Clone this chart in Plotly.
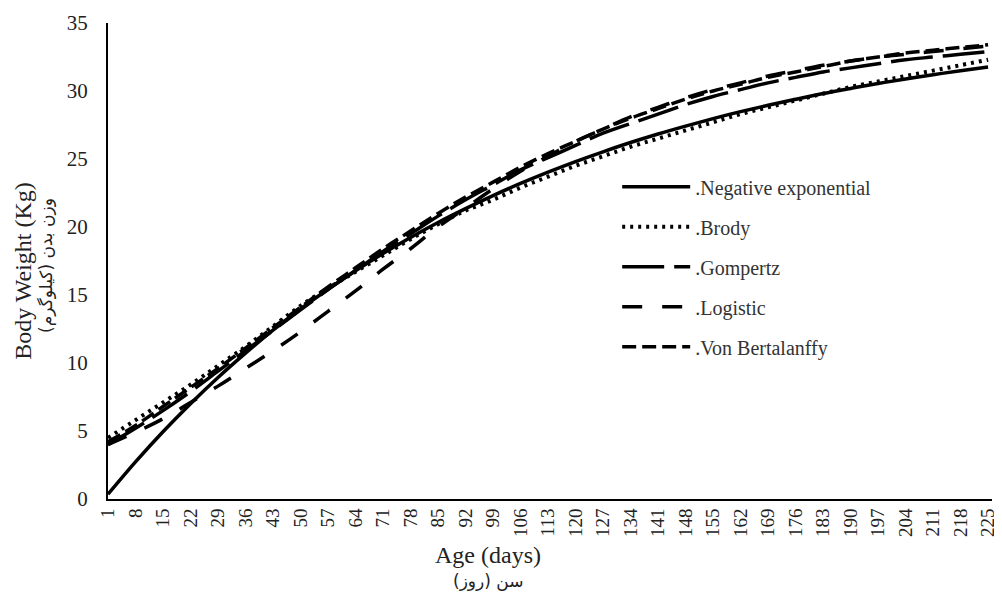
import plotly.graph_objects as go

days = list(range(1, 226, 7))

neg_exp = [0.35, 2.73, 4.95, 7.01, 8.94, 10.73, 12.41, 13.97, 15.42, 16.78, 18.05,
           19.23, 20.33, 21.35, 22.31, 23.20, 24.03, 24.81, 25.53, 26.21, 26.84,
           27.42, 27.97, 28.48, 28.95, 29.39, 29.81, 30.19, 30.55, 30.89, 31.20,
           31.49, 31.76]
brody = [4.5, 5.8, 7.1, 8.4, 9.8, 11.2, 12.7, 14.2, 15.5, 16.7, 17.9,
         19.1, 20.2, 21.2, 22.0, 22.9, 23.7, 24.5, 25.2, 25.9, 26.5,
         27.1, 27.7, 28.3, 28.8, 29.3, 29.8, 30.3, 30.7, 31.1, 31.5,
         31.9, 32.3]
gompertz = [4.0, 5.2, 6.5, 7.9, 9.4, 10.9, 12.4, 13.9, 15.4, 16.8, 18.2,
            19.5, 20.8, 22.0, 23.1, 24.2, 25.1, 26.0, 26.9, 27.6, 28.3,
            29.0, 29.6, 30.1, 30.6, 31.0, 31.4, 31.7, 32.0, 32.3, 32.5,
            32.7, 32.9]
logistic = [4.0, 4.9, 5.9, 7.1, 8.3, 9.6, 10.9, 12.3, 13.8, 15.3, 16.9,
            18.4, 20.0, 21.4, 22.8, 24.1, 25.2, 26.3, 27.2, 28.1, 28.8,
            29.5, 30.1, 30.6, 31.1, 31.5, 31.9, 32.2, 32.5, 32.7, 32.9,
            33.1, 33.3]
von_bert = [4.2, 5.4, 6.8, 8.2, 9.6, 11.1, 12.6, 14.1, 15.6, 17.0, 18.4,
            19.7, 21.0, 22.2, 23.3, 24.4, 25.4, 26.3, 27.2, 28.0, 28.7,
            29.4, 30.0, 30.5, 31.0, 31.4, 31.8, 32.2, 32.5, 32.8, 33.0,
            33.2, 33.4]

series = [
    (".Negative exponential", neg_exp, "solid", 3.5),
    (".Brody", brody, "3px,5px", 4),
    (".Gompertz", gompertz, "42px,10px", 3.5),
    (".Logistic", logistic, "20px,20px", 3.5),
    (".Von Bertalanffy", von_bert, "14px,6px", 3.5),
]

y_ticks = [0, 5, 10, 15, 20, 25, 30, 35]

FONT = "Liberation Serif, Times New Roman, serif"

fig = go.Figure()
for i, (name, vals, dash, w) in enumerate(series):
    fig.add_trace(go.Scatter(
        x=days, y=vals, name=name, mode="lines",
        line=dict(color="black", width=w, dash=dash, shape="spline"),
        legendgroup=f"g{i}",
    ))

fig.update_layout(
    width=994, height=587,
    margin=dict(l=100, r=10, t=15, b=96, autoexpand=False),
    paper_bgcolor="white", plot_bgcolor="white",
    font=dict(family=FONT, color="#222", size=18),
    showlegend=True,
    legend=dict(
        x=0.576, y=0.697, xanchor="left", yanchor="top",
        bgcolor="rgba(0,0,0,0)", itemwidth=68,
        font=dict(family=FONT, size=20, color="#333"),
        tracegroupgap=11,
    ),
    xaxis=dict(
        range=[1, 226], tickmode="array", tickvals=days,
        ticktext=[str(d) for d in days], tickangle=-90,
        showgrid=False, zeroline=False, showline=True, automargin=False,
        linecolor="black", linewidth=2, ticks="",
        tickfont=dict(family=FONT, size=19, color="#222"),
    ),
    yaxis=dict(
        range=[0, 35], tickmode="array", tickvals=y_ticks,
        showgrid=False, zeroline=False, showline=True, automargin=False,
        linecolor="black", linewidth=2, ticks="",
        ticklabelstandoff=14,
        tickfont=dict(family=FONT, size=21, color="#222"),
    ),
    annotations=[
        dict(text="Body Weight (Kg)", xref="paper", yref="paper",
             x=-0.097, y=0.48, textangle=-90, showarrow=False,
             xanchor="center", yanchor="middle",
             font=dict(family=FONT, size=24, color="#222")),
        dict(text="وزن بدن (کیلوگرم)", xref="paper", yref="paper",
             x=-0.070, y=0.49, textangle=-90, showarrow=False,
             xanchor="center", yanchor="middle",
             font=dict(family="DejaVu Sans", size=17, color="#222")),
        dict(text="Age (days)", xref="paper", yref="paper",
             x=0.43, y=-0.118, showarrow=False,
             xanchor="center", yanchor="middle",
             font=dict(family=FONT, size=24, color="#222")),
        dict(text="سن (روز)", xref="paper", yref="paper",
             x=0.43, y=-0.172, showarrow=False,
             xanchor="center", yanchor="middle",
             font=dict(family="DejaVu Sans", size=17, color="#222")),
    ],
)

fig.write_html("out.html")
